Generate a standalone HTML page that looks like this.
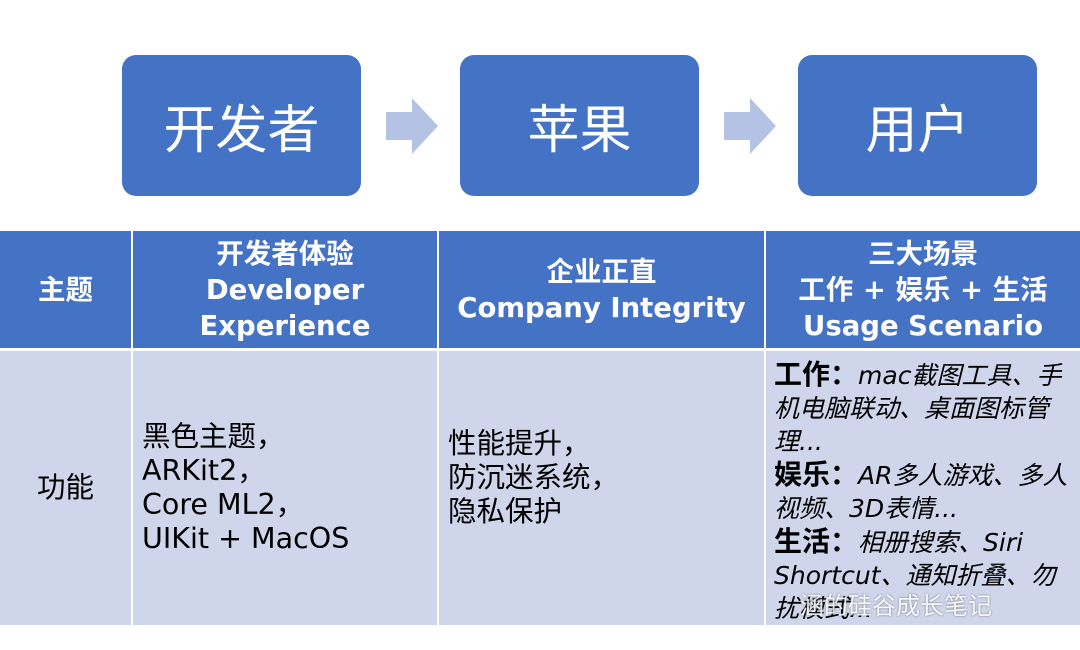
<!DOCTYPE html>
<html><head><meta charset="utf-8"><style>
body{margin:0;width:1080px;height:650px;background:#fff;position:relative;overflow:hidden;font-family:"DejaVu Sans","Noto Sans CJK SC",sans-serif}
.box{position:absolute;top:55px;width:239px;height:141px;background:#4472c4;border-radius:14px;color:#fff;font-size:52px;font-family:"Liberation Sans","Noto Sans CJK SC",sans-serif;display:flex;align-items:center;justify-content:center}
.arr{position:absolute;top:98px}
.c{position:absolute;box-sizing:border-box;display:flex;align-items:center;justify-content:center;text-align:center}
.h{background:#4472c4;color:#fff;font-weight:bold;font-size:27.5px;line-height:36px;top:231px;height:117px}
.b{background:#cfd5ea;color:#000;top:351px;height:274px;font-size:28.5px;line-height:34px}
</style></head><body>
<div class="box" style="left:122px">开发者</div>
<div class="box" style="left:460px">苹果</div>
<div class="box" style="left:798px">用户</div>
<svg class="arr" style="left:386px" width="52" height="56"><polygon points="0,14 26,14 26,0 52,28 26,56 26,42 0,42" fill="#b4c3e3"/></svg>
<svg class="arr" style="left:724px" width="52" height="56"><polygon points="0,14 26,14 26,0 52,28 26,56 26,42 0,42" fill="#b4c3e3"/></svg>

<div class="c h" style="left:0;width:131px">主题</div>
<div class="c h" style="left:133px;width:304px">开发者体验<br>Developer<br>Experience</div>
<div class="c h" style="left:439px;width:325px">企业正直<br>Company Integrity</div>
<div class="c h" style="left:766px;width:314px">三大场景<br>工作 + 娱乐 + 生活<br>Usage Scenario</div>

<div class="c b" style="left:0;width:131px">功能</div>
<div class="c b" style="left:133px;width:304px;justify-content:flex-start;padding-left:9px;text-align:left">黑色主题，<br>ARKit2，<br>Core ML2，<br>UIKit + MacOS</div>
<div class="c b" style="left:439px;width:325px;justify-content:flex-start;padding-left:9px;text-align:left;padding-bottom:20px">性能提升，<br>防沉迷系统，<br>隐私保护</div>
<div class="c b" style="left:766px;width:314px;display:block;text-align:left;padding:7px 4px 0 8px;font-size:25px;line-height:33px;font-style:italic"><b style="font-style:normal;font-size:28px">工作：</b>mac截图工具、手机电脑联动、桌面图标管理...<br><b style="font-style:normal;font-size:28px">娱乐：</b>AR多人游戏、多人视频、3D表情...<br><b style="font-style:normal;font-size:28px">生活：</b>相册搜索、Siri Shortcut、通知折叠、勿扰模式...</div>
<div style="position:absolute;left:800px;top:586px;color:#fff;font-size:24px;opacity:.85;text-shadow:0 0 2px #666">涵的硅谷成长笔记</div>
</body></html>
